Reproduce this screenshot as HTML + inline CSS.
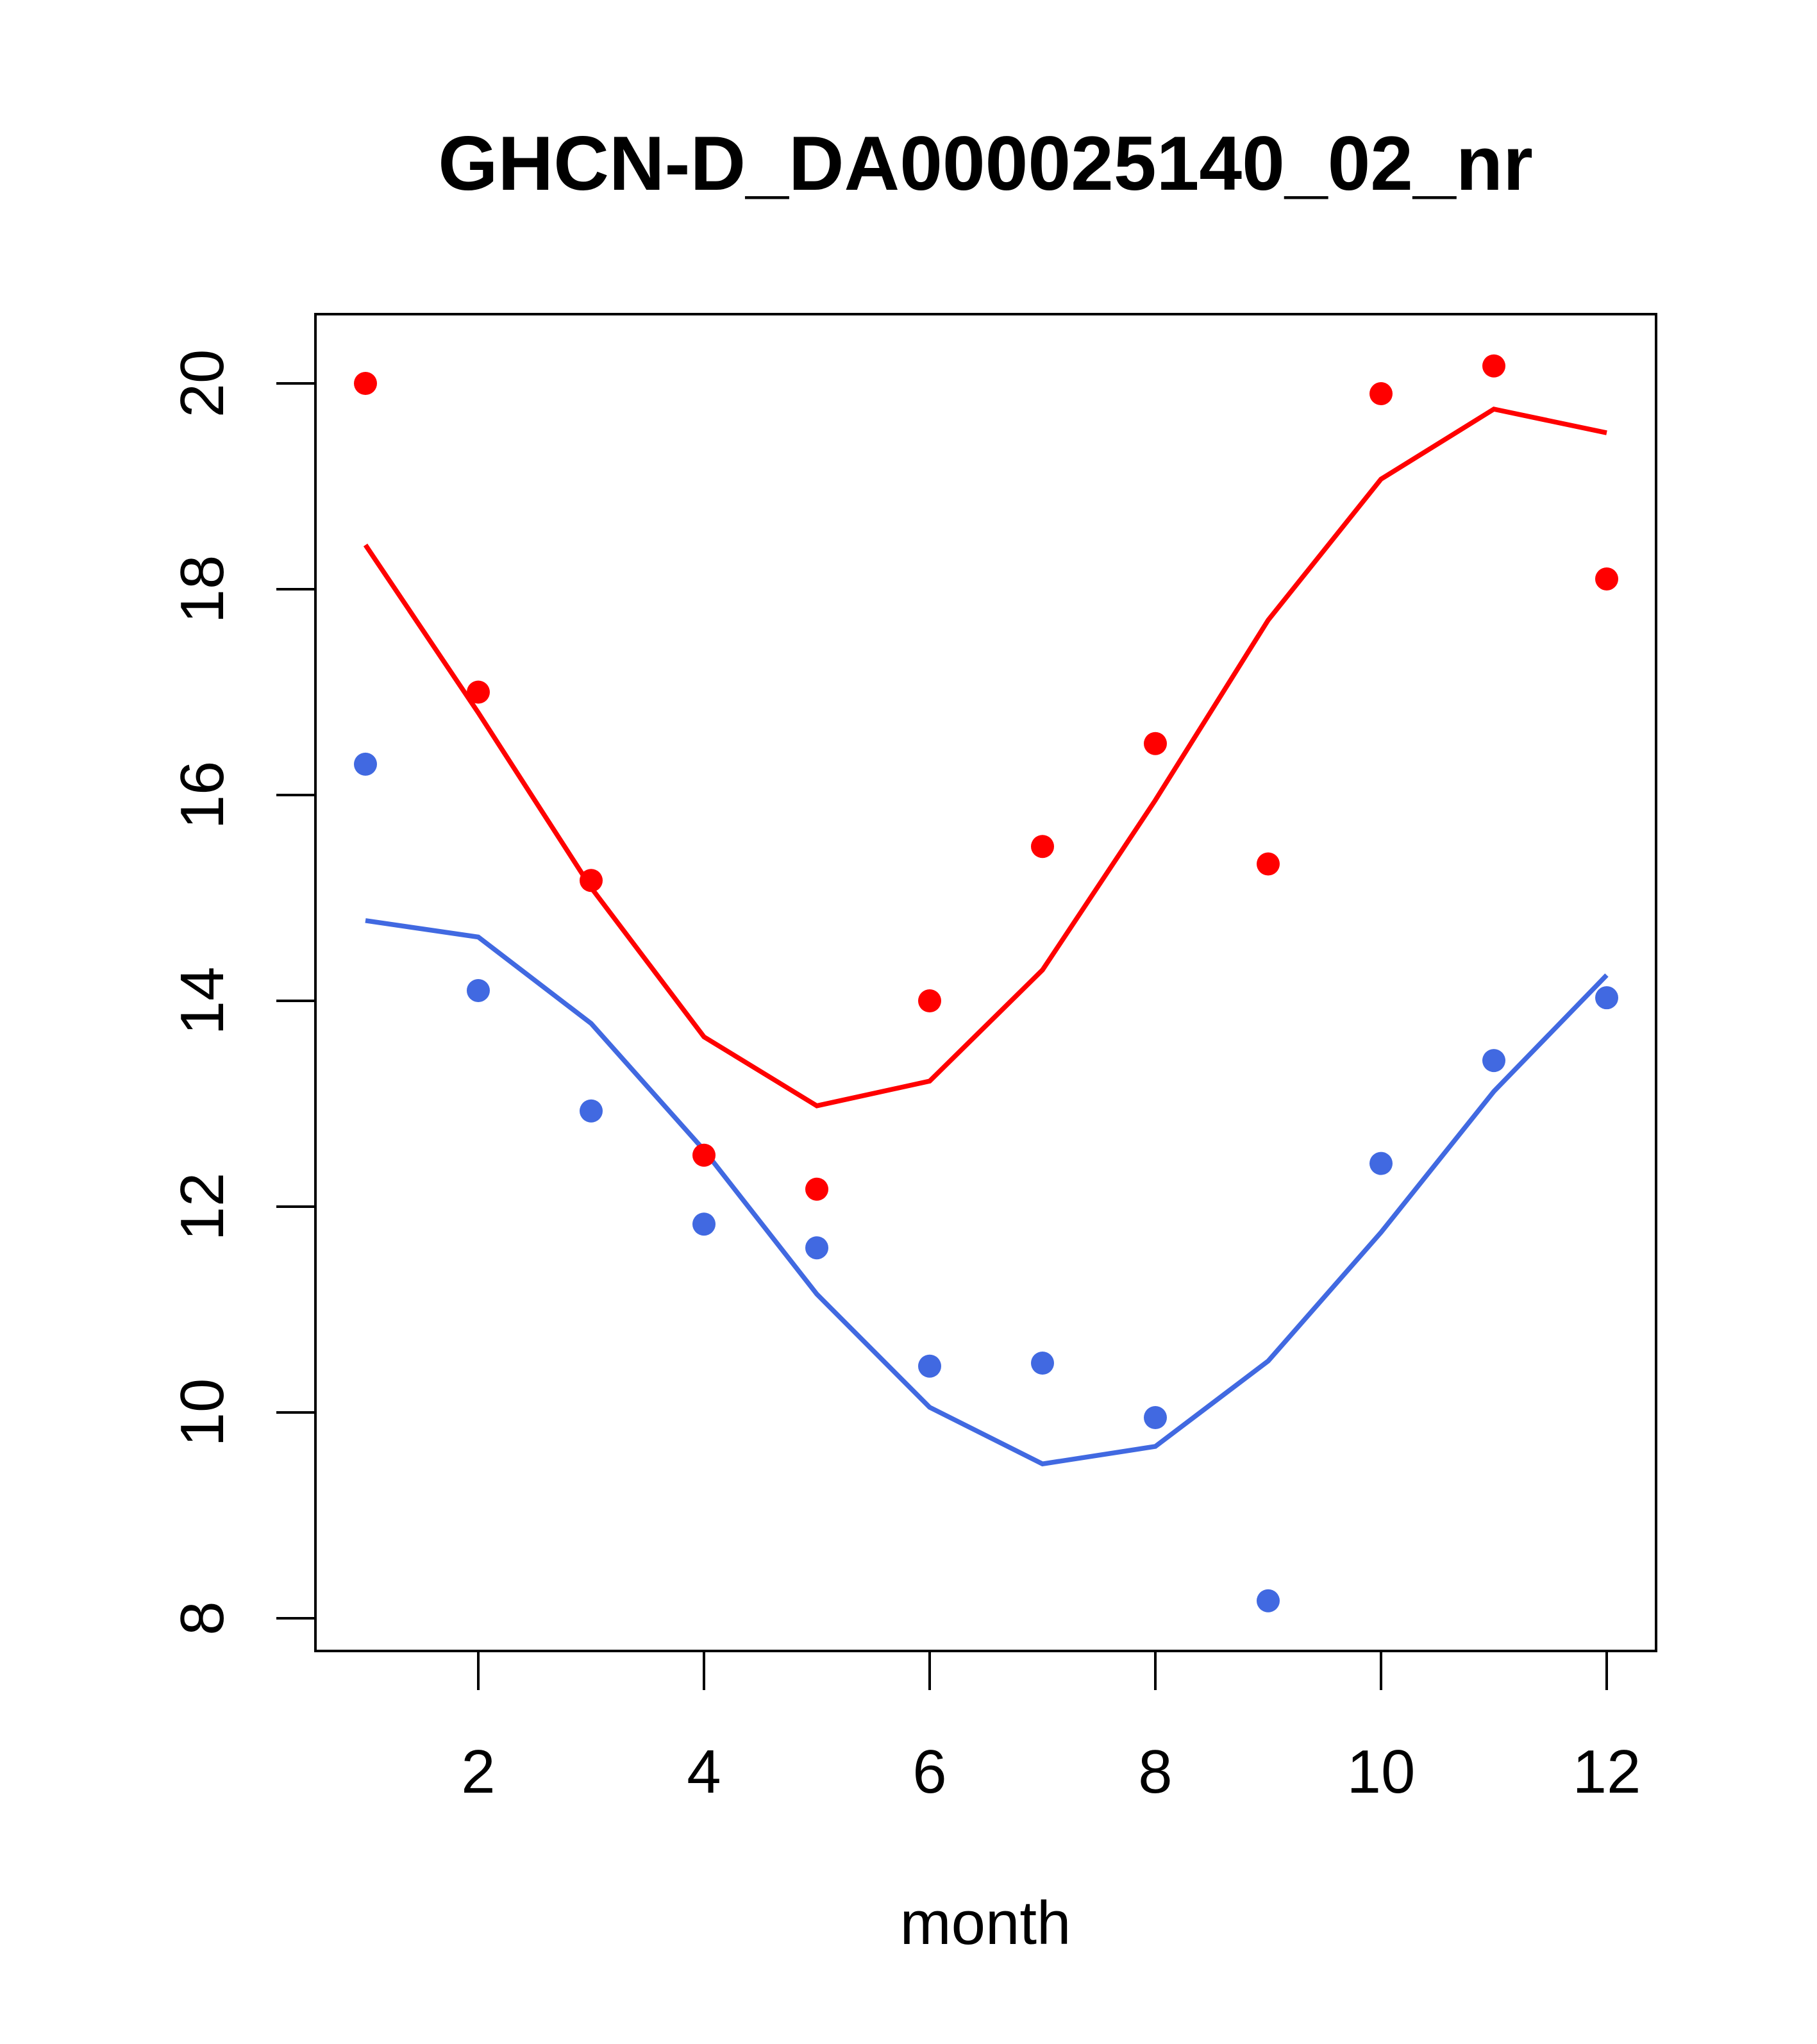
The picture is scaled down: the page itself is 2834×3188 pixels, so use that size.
<!DOCTYPE html>
<html><head><meta charset="utf-8"><style>html,body{margin:0;padding:0;background:#fff}svg{display:block}</style></head>
<body>
<svg id="chart" width="2834" height="3188" viewBox="0 0 2834 3188" xmlns="http://www.w3.org/2000/svg" font-family="Liberation Sans, sans-serif">
<rect width="2834" height="3188" fill="#fff"/>
<text x="1537" y="296" font-size="120" font-weight="bold" text-anchor="middle">GHCN-D_DA000025140_02_nr</text>
<rect x="492" y="490" width="2091" height="2085" fill="none" stroke="#000" stroke-width="4"/>
<text x="1537" y="3032" font-size="96" text-anchor="middle">month</text>
<g id="axes"></g>
<g id="series"></g>
</svg>
<script>
const months=[1,2,3,4,5,6,7,8,9,10,11,12];
const redPoints=[20.0,17.0,15.17,12.5,12.17,14.0,15.5,16.5,15.33,19.9,20.17,18.1];
const redLine=[18.43,16.8,15.1,13.65,12.98,13.22,14.3,15.95,17.7,19.07,19.75,19.52];
const bluePoints=[16.3,14.1,12.93,11.83,11.6,10.45,10.48,9.95,8.17,12.42,13.42,14.03];
const blueLine=[14.78,14.62,13.78,12.55,11.15,10.05,9.5,9.67,10.5,11.75,13.12,14.25];
const xTicks=[2,4,6,8,10,12];
const yTicks=[8,10,12,14,16,18,20];
const NS='http://www.w3.org/2000/svg';
const X=m=>570+(m-1)*176;
const Y=v=>2524-(v-8)*160.5;
const axes=document.getElementById('axes'),ser=document.getElementById('series');
function mk(t,a,p){const e=document.createElementNS(NS,t);for(const k in a)e.setAttribute(k,a[k]);p.appendChild(e);return e;}
mk('line',{x1:X(2),x2:X(12),y1:2575,y2:2575,stroke:'#000','stroke-width':4},axes);
mk('line',{x1:492,x2:492,y1:Y(8),y2:Y(20),stroke:'#000','stroke-width':4},axes);
xTicks.forEach(t=>{
 const l=mk('line',{x1:X(t),x2:X(t),y1:2575,y2:2636,stroke:'#000','stroke-width':4},axes);
 
 
 const tx=mk('text',{x:X(t),y:2796,'font-size':96,'text-anchor':'middle'},axes);
 tx.textContent=t;
 
 
});
yTicks.forEach(t=>{
 const l=mk('line',{x1:431,x2:492,y1:Y(t),y2:Y(t),stroke:'#000','stroke-width':4},axes);
 
 
 const tx=mk('text',{x:0,y:0,'font-size':96,'text-anchor':'middle',transform:`translate(348,${Y(t)}) rotate(-90)`},axes);
 tx.textContent=t;
 
 
});
function line(vals,c,n){
 const p=mk('polyline',{points:vals.map((v,i)=>X(months[i])+','+Y(v)).join(' '),fill:'none',stroke:c,'stroke-width':7.5},ser);
 
 
}
function pts(vals,c,n){
 vals.forEach((v,i)=>{
  const e=mk('circle',{cx:X(months[i]),cy:Y(v),r:18,fill:c},ser);
  
  
 });
}
line(redLine,'#ff0000','red-line');
line(blueLine,'#4169e1','blue-line');
pts(redPoints,'#ff0000','red-point');
pts(bluePoints,'#4169e1','blue-point');
</script>
</body></html>
